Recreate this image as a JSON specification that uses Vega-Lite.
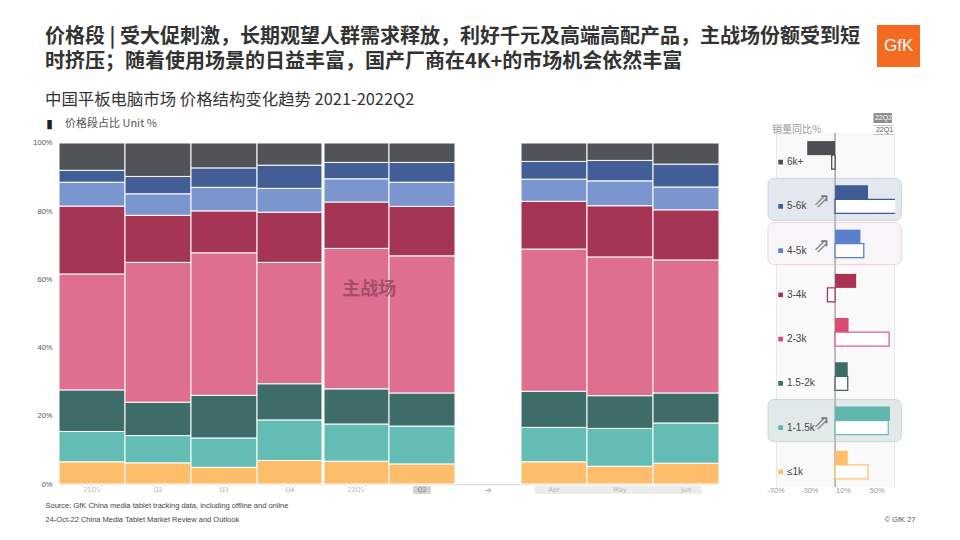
{
  "$schema": "https://vega.github.io/schema/vega-lite/v6.json",
  "background": "white",
  "padding": {"left": 32, "top": 25, "right": 10, "bottom": 10},
  "config": {
    "font": "Noto Sans CJK SC",
    "view": {"stroke": null},
    "axis": {"labelFont": "Liberation Sans", "titleFont": "Liberation Sans"}
  },
  "title": {
    "text": ["价格段 | 受大促刺激，长期观望人群需求释放，利好千元及高端高配产品，主战场份额受到短", "时挤压；随着使用场景的日益丰富，国产厂商在4K+的市场机会依然丰富"],
    "subtitle": "中国平板电脑市场 价格结构变化趋势 2021-2022Q2",
    "anchor": "start",
    "frame": "group",
    "font": "Noto Sans CJK SC",
    "fontSize": 20,
    "fontWeight": "bold",
    "color": "#333333",
    "lineHeight": 25,
    "subtitleFont": "Noto Sans CJK SC",
    "subtitleFontSize": 16.4,
    "subtitleColor": "#333333",
    "subtitleFontWeight": "normal",
    "subtitlePadding": 20,
    "offset": -83,
    "dx": -14
  },
  "bounds": "flush",
  "spacing": 57,
  "datasets": {
    "share": [
      {"period": "21Q1", "segment": "≤1k", "share": 6.5}, {"period": "21Q1", "segment": "1-1.5k", "share": 8.9}, {"period": "21Q1", "segment": "1.5-2k", "share": 12.2}, {"period": "21Q1", "segment": "2-3k", "share": 34.0}, {"period": "21Q1", "segment": "3-4k", "share": 19.9}, {"period": "21Q1", "segment": "4-5k", "share": 7.0}, {"period": "21Q1", "segment": "5-6k", "share": 3.5}, {"period": "21Q1", "segment": "6k+", "share": 8.0},
      {"period": "21Q2", "segment": "≤1k", "share": 6.2}, {"period": "21Q2", "segment": "1-1.5k", "share": 8.0}, {"period": "21Q2", "segment": "1.5-2k", "share": 9.8}, {"period": "21Q2", "segment": "2-3k", "share": 41.0}, {"period": "21Q2", "segment": "3-4k", "share": 13.8}, {"period": "21Q2", "segment": "4-5k", "share": 6.3}, {"period": "21Q2", "segment": "5-6k", "share": 5.1}, {"period": "21Q2", "segment": "6k+", "share": 9.8},
      {"period": "21Q3", "segment": "≤1k", "share": 4.9}, {"period": "21Q3", "segment": "1-1.5k", "share": 8.6}, {"period": "21Q3", "segment": "1.5-2k", "share": 12.5}, {"period": "21Q3", "segment": "2-3k", "share": 41.8}, {"period": "21Q3", "segment": "3-4k", "share": 12.3}, {"period": "21Q3", "segment": "4-5k", "share": 6.9}, {"period": "21Q3", "segment": "5-6k", "share": 5.7}, {"period": "21Q3", "segment": "6k+", "share": 7.3},
      {"period": "21Q4", "segment": "≤1k", "share": 6.9}, {"period": "21Q4", "segment": "1-1.5k", "share": 11.9}, {"period": "21Q4", "segment": "1.5-2k", "share": 10.6}, {"period": "21Q4", "segment": "2-3k", "share": 35.6}, {"period": "21Q4", "segment": "3-4k", "share": 14.7}, {"period": "21Q4", "segment": "4-5k", "share": 7.0}, {"period": "21Q4", "segment": "5-6k", "share": 6.8}, {"period": "21Q4", "segment": "6k+", "share": 6.5},
      {"period": "22Q1", "segment": "≤1k", "share": 6.7}, {"period": "22Q1", "segment": "1-1.5k", "share": 10.9}, {"period": "22Q1", "segment": "1.5-2k", "share": 10.3}, {"period": "22Q1", "segment": "2-3k", "share": 41.2}, {"period": "22Q1", "segment": "3-4k", "share": 13.6}, {"period": "22Q1", "segment": "4-5k", "share": 6.8}, {"period": "22Q1", "segment": "5-6k", "share": 4.8}, {"period": "22Q1", "segment": "6k+", "share": 5.7},
      {"period": "22Q2", "segment": "≤1k", "share": 5.9}, {"period": "22Q2", "segment": "1-1.5k", "share": 11.1}, {"period": "22Q2", "segment": "1.5-2k", "share": 9.7}, {"period": "22Q2", "segment": "2-3k", "share": 40.2}, {"period": "22Q2", "segment": "3-4k", "share": 14.5}, {"period": "22Q2", "segment": "4-5k", "share": 7.1}, {"period": "22Q2", "segment": "5-6k", "share": 5.8}, {"period": "22Q2", "segment": "6k+", "share": 5.7},
      {"period": "Apr", "segment": "≤1k", "share": 6.5}, {"period": "Apr", "segment": "1-1.5k", "share": 10.1}, {"period": "Apr", "segment": "1.5-2k", "share": 10.6}, {"period": "Apr", "segment": "2-3k", "share": 41.7}, {"period": "Apr", "segment": "3-4k", "share": 14.0}, {"period": "Apr", "segment": "4-5k", "share": 6.5}, {"period": "Apr", "segment": "5-6k", "share": 5.2}, {"period": "Apr", "segment": "6k+", "share": 5.4},
      {"period": "May", "segment": "≤1k", "share": 5.2}, {"period": "May", "segment": "1-1.5k", "share": 11.1}, {"period": "May", "segment": "1.5-2k", "share": 9.6}, {"period": "May", "segment": "2-3k", "share": 40.7}, {"period": "May", "segment": "3-4k", "share": 15.0}, {"period": "May", "segment": "4-5k", "share": 7.3}, {"period": "May", "segment": "5-6k", "share": 6.0}, {"period": "May", "segment": "6k+", "share": 5.1},
      {"period": "Jun", "segment": "≤1k", "share": 6.1}, {"period": "Jun", "segment": "1-1.5k", "share": 11.8}, {"period": "Jun", "segment": "1.5-2k", "share": 8.8}, {"period": "Jun", "segment": "2-3k", "share": 39.0}, {"period": "Jun", "segment": "3-4k", "share": 14.7}, {"period": "Jun", "segment": "4-5k", "share": 6.7}, {"period": "Jun", "segment": "5-6k", "share": 6.7}, {"period": "Jun", "segment": "6k+", "share": 6.2}
    ],
    "xlab": [
      {"period": "21Q1", "label": "21Q1"}, {"period": "21Q2", "label": "Q2"}, {"period": "21Q3", "label": "Q3"}, {"period": "21Q4", "label": "Q4"},
      {"period": "22Q1", "label": "22Q1"}, {"period": "22Q2", "label": "Q2"}, {"period": "gap", "label": "➔"},
      {"period": "Apr", "label": "Apr"}, {"period": "May", "label": "May"}, {"period": "Jun", "label": "Jun"}
    ],
    "yoy": [
      {"segment": "6k+", "series": "22Q2", "yoy": -33}, {"segment": "6k+", "series": "22Q1", "yoy": -4},
      {"segment": "5-6k", "series": "22Q2", "yoy": 39}, {"segment": "5-6k", "series": "22Q1", "yoy": 90},
      {"segment": "4-5k", "series": "22Q2", "yoy": 30}, {"segment": "4-5k", "series": "22Q1", "yoy": 34},
      {"segment": "3-4k", "series": "22Q2", "yoy": 25}, {"segment": "3-4k", "series": "22Q1", "yoy": -9},
      {"segment": "2-3k", "series": "22Q2", "yoy": 16}, {"segment": "2-3k", "series": "22Q1", "yoy": 64},
      {"segment": "1.5-2k", "series": "22Q2", "yoy": 15}, {"segment": "1.5-2k", "series": "22Q1", "yoy": 15},
      {"segment": "1-1.5k", "series": "22Q2", "yoy": 65}, {"segment": "1-1.5k", "series": "22Q1", "yoy": 63},
      {"segment": "≤1k", "series": "22Q2", "yoy": 15}, {"segment": "≤1k", "series": "22Q1", "yoy": 39}
    ],
    "yoyTicks": [
      {"tick": -70, "label": "-70%"}, {"tick": -30, "label": "-30%"}, {"tick": 10, "label": "10%"}, {"tick": 50, "label": "50%"}
    ]
  },
  "hconcat": [
    {
      "width": 660,
      "height": 364,
      "title": {"text": "价格段占比 Unit %", "anchor": "start", "frame": "group", "fontSize": 11, "color": "#555555", "fontWeight": "normal", "offset": -12, "dx": 6},
      "layer": [
        {
          "data": {"values": [{}]},
          "mark": {"type": "rule", "stroke": "#d8d8d8", "strokeWidth": 1},
          "encoding": {"y": {"datum": -0.2, "type": "quantitative", "scale": {"domain": [-3.81, 102.93], "nice": false, "zero": false}}}
        },
        {
          "data": {"values": [{}]},
          "mark": {"type": "bar", "fill": "#d4d4d4", "width": 18, "cornerRadius": 1},
          "encoding": {
            "x": {"datum": "22Q2", "type": "nominal"},
            "y": {"datum": -0.6, "type": "quantitative"},
            "y2": {"datum": -2.9}
          }
        },
        {
          "data": {"values": [{}]},
          "mark": {"type": "rect", "fill": "#ececec", "cornerRadius": 1},
          "encoding": {
            "x": {"datum": "Apr", "type": "nominal", "bandPosition": 0.21},
            "x2": {"datum": "Jun", "bandPosition": 0.74},
            "y": {"datum": -0.6, "type": "quantitative"},
            "y2": {"datum": -2.9}
          }
        },
        {
          "data": {"name": "share"},
          "transform": [{"calculate": "indexof(['≤1k', '1-1.5k', '1.5-2k', '2-3k', '3-4k', '4-5k', '5-6k', '6k+'], datum.segment)", "as": "stackRank"}],
          "mark": {"type": "bar", "stroke": "white", "strokeWidth": 1},
          "encoding": {
            "x": {
              "field": "period", "type": "nominal",
              "scale": {"domain": ["21Q1", "21Q2", "21Q3", "21Q4", "22Q1", "22Q2", "gap", "Apr", "May", "Jun"], "paddingInner": 0, "paddingOuter": 0},
              "axis": {
                "labels": false, "ticks": false, "domain": false,
                "title": ["Source: GfK China media tablet tracking data, including offline and online", "24-Oct-22    China Media Tablet Market Review and Outlook"],
                "titleX": -14, "titleY": 4, "titleAlign": "left", "titleAnchor": "start", "titleBaseline": "top",
                "titleFontSize": 7.5, "titleFontWeight": "normal", "titleColor": "#444444", "titleLineHeight": 14
              }
            },
            "y": {
              "field": "share", "type": "quantitative", "stack": "zero",
              "scale": {"domain": [-3.81, 102.93], "nice": false, "zero": false},
              "axis": {
                "values": [0, 20, 40, 60, 80, 100], "labelExpr": "datum.value + '%'",
                "domain": false, "ticks": false, "grid": false,
                "labelFontSize": 7.5, "labelColor": "#555555", "labelPadding": 7,
                "title": "▮", "titleAngle": 0, "titleX": -10, "titleY": -10, "titleFontSize": 12, "titleFontStyle": "italic",
                "titleFontWeight": "bold", "titleColor": "#222222", "titleAlign": "center", "titleBaseline": "middle", "titleFont": "DejaVu Sans"
              }
            },
            "color": {
              "field": "segment", "type": "nominal",
              "scale": {
                "domain": ["≤1k", "1-1.5k", "1.5-2k", "2-3k", "3-4k", "4-5k", "5-6k", "6k+"],
                "range": ["#fdbd6b", "#63bdb5", "#3d6c69", "#df6f8e", "#a53555", "#7b96cf", "#435e97", "#505458"]
              },
              "legend": null
            },
            "order": {"field": "stackRank", "type": "quantitative", "sort": "ascending"}
          }
        },
        {
          "data": {"values": [{}]},
          "mark": {"type": "rule", "stroke": "white", "strokeWidth": 3},
          "encoding": {
            "x": {"datum": "22Q1", "type": "nominal", "bandPosition": 0},
            "y": {"datum": 0, "type": "quantitative"},
            "y2": {"datum": 100}
          }
        },
        {
          "data": {"name": "xlab"},
          "mark": {"type": "text", "font": "DejaVu Sans", "baseline": "middle"},
          "encoding": {
            "x": {"field": "period", "type": "nominal"},
            "y": {"datum": -1.75, "type": "quantitative"},
            "text": {"field": "label"},
            "size": {"condition": {"test": "datum.period === 'gap'", "value": 9}, "value": 6.5},
            "color": {"condition": {"test": "datum.period === '22Q2'", "value": "#8a8a8a"}, "value": "#b4b4b4"}
          }
        },
        {
          "data": {"values": [{}]},
          "mark": {"type": "text", "text": "主战场", "fontSize": 18, "fontWeight": "bold", "fill": "#9b4763", "opacity": 0.85, "font": "Noto Sans CJK SC"},
          "encoding": {
            "x": {"datum": "22Q1", "type": "nominal", "bandPosition": 0.7},
            "y": {"datum": 57, "type": "quantitative"}
          }
        }
      ]
    },
    {
      "width": 119,
      "height": 354,
      "view": {"fill": "#f9f9f9", "stroke": null},
      "title": {"text": "销量同比%", "anchor": "start", "frame": "group", "fontSize": 10, "color": "#9a9a9a", "fontWeight": "normal", "offset": -22, "dx": -4},
      "resolve": {"scale": {"shape": "independent"}, "legend": {"shape": "independent"}},
      "layer": [
        {
          "data": {"values": [{"segment": "5-6k"}]},
          "mark": {"type": "bar", "fill": "#e3e7f0", "stroke": "#cdd4e5", "strokeWidth": 1, "cornerRadius": 6, "height": {"band": 0.95}},
          "encoding": {
            "x": {
              "datum": -79.5, "type": "quantitative",
              "scale": {"domain": [-70, 71], "nice": false, "zero": false},
              "axis": {
                "values": [-70, -60, -50, -40, -30, -20, -10, 0, 10, 20, 30, 40, 50, 60, 70],
                "labels": false,
                "grid": true, "gridColor": "#e8e8e8", "domain": false, "ticks": false,
                "title": "© GfK  27", "titleX": 139, "titleY": 28, "titleAlign": "right", "titleAnchor": "end", "titleBaseline": "top",
                "titleFontSize": 7.5, "titleFontWeight": "normal", "titleColor": "#555555"
              }
            },
            "x2": {"datum": 78.5},
            "y": {"field": "segment", "type": "nominal", "scale": {"domain": ["6k+", "5-6k", "4-5k", "3-4k", "2-3k", "1.5-2k", "1-1.5k", "≤1k"], "paddingInner": 0, "paddingOuter": 0}, "axis": null}
          }
        },
        {
          "data": {"values": [{"segment": "4-5k"}]},
          "mark": {"type": "bar", "fill": "#f7f5f7", "stroke": "#f0d2da", "strokeWidth": 1, "cornerRadius": 6, "height": {"band": 0.95}},
          "encoding": {
            "x": {"datum": -79.5, "type": "quantitative"},
            "x2": {"datum": 78.5},
            "y": {"field": "segment", "type": "nominal"}
          }
        },
        {
          "data": {"values": [{"segment": "1-1.5k"}]},
          "mark": {"type": "bar", "fill": "#e1eae9", "stroke": "#c7d8d6", "strokeWidth": 1, "cornerRadius": 6, "height": {"band": 0.95}},
          "encoding": {
            "x": {"datum": -79.5, "type": "quantitative"},
            "x2": {"datum": 78.5},
            "y": {"field": "segment", "type": "nominal"}
          }
        },
        {
          "data": {"values": [{}]},
          "mark": {"type": "rule", "stroke": "#a9a9a9", "strokeWidth": 1.5},
          "encoding": {"x": {"datum": 0, "type": "quantitative"}}
        },
        {
          "data": {"name": "yoy"},
          "transform": [{"filter": "datum.series === '22Q2'"}],
          "mark": {"type": "bar", "clip": true},
          "encoding": {
            "x": {"field": "yoy", "type": "quantitative"},
            "y": {"field": "segment", "type": "nominal"},
            "yOffset": {"field": "series", "type": "nominal", "scale": {"domain": ["22Q2", "22Q1"], "paddingInner": 0, "paddingOuter": 0.58}},
            "fill": {
              "field": "segment", "type": "nominal",
              "scale": {
                "domain": ["6k+", "5-6k", "4-5k", "3-4k", "2-3k", "1.5-2k", "1-1.5k", "≤1k"],
                "range": ["#4b4e52", "#405c96", "#5b7fcc", "#a8324f", "#da4a73", "#3d6b66", "#5fb6ad", "#fdbf6a"]
              },
              "legend": null
            }
          }
        },
        {
          "data": {"name": "yoy"},
          "transform": [{"filter": "datum.series === '22Q1'"}],
          "mark": {"type": "bar", "clip": true, "fill": "white", "strokeWidth": 1.3},
          "encoding": {
            "x": {"field": "yoy", "type": "quantitative"},
            "y": {"field": "segment", "type": "nominal"},
            "yOffset": {"field": "series", "type": "nominal"},
            "stroke": {
              "field": "segment", "type": "nominal",
              "scale": {
                "domain": ["6k+", "5-6k", "4-5k", "3-4k", "2-3k", "1.5-2k", "1-1.5k", "≤1k"],
                "range": ["#4b4e52", "#405c96", "#5b7fcc", "#a8324f", "#e0608a", "#3d6b66", "#6cbcb3", "#fdbf6a"]
              },
              "legend": null
            }
          }
        },
        {
          "data": {"name": "yoy"},
          "transform": [{"filter": "datum.series === '22Q1'"}],
          "mark": {"type": "point", "shape": "square", "filled": true, "size": 22, "opacity": 1},
          "encoding": {
            "x": {"datum": -64.5, "type": "quantitative"},
            "y": {"field": "segment", "type": "nominal"},
            "yOffset": {"field": "series", "type": "nominal"},
            "fill": {"field": "segment", "type": "nominal"}
          }
        },
        {
          "data": {"name": "yoy"},
          "transform": [{"filter": "datum.series === '22Q1'"}],
          "mark": {"type": "text", "align": "left", "baseline": "middle", "font": "Liberation Sans", "fontSize": 10, "fill": "#444444"},
          "encoding": {
            "x": {"datum": -57, "type": "quantitative"},
            "y": {"field": "segment", "type": "nominal"},
            "yOffset": {"field": "series", "type": "nominal"},
            "text": {"field": "segment"}
          }
        },
        {
          "data": {"values": [{"segment": "5-6k"}, {"segment": "4-5k"}, {"segment": "1-1.5k"}]},
          "mark": {"type": "text", "text": "⇗", "font": "DejaVu Sans", "fontSize": 20, "fill": "#777777", "baseline": "middle", "dy": 2},
          "encoding": {
            "x": {"datum": -16, "type": "quantitative"},
            "y": {"field": "segment", "type": "nominal"}
          }
        },
        {
          "data": {"name": "yoyTicks"},
          "mark": {"type": "text", "align": "center", "baseline": "middle", "font": "Liberation Sans", "fontSize": 7.5, "fill": "#9a9a9a", "dy": 19},
          "encoding": {
            "x": {"field": "tick", "type": "quantitative"},
            "y": {"datum": "≤1k", "type": "nominal"},
            "yOffset": {"datum": "22Q1", "type": "nominal"},
            "text": {"field": "label"}
          }
        },
        {
          "data": {"values": [{}]},
          "mark": {"type": "point", "opacity": 0, "filled": true, "fill": "#8e8e8e"},
          "encoding": {
            "x": {"datum": 0, "type": "quantitative"},
            "shape": {
              "datum": "22Q2",
              "scale": {"range": ["M-1.15,-0.5H1.15V0.5H-1.15Z"]},
              "legend": {
                "orient": "none", "legendX": 97.5, "legendY": -20, "title": null,
                "symbolSize": 400, "symbolStrokeWidth": 0, "symbolFillColor": "#8e8e8e", "symbolOpacity": 1,
                "labelFontSize": 7, "labelFont": "Liberation Sans", "labelOffset": -10, "labelAlign": "center", "labelColor": "#ffffff",
                "clipHeight": 10, "padding": 0
              }
            }
          }
        },
        {
          "data": {"values": [{}]},
          "mark": {"type": "point", "opacity": 0, "filled": false, "stroke": "#8c8c8c", "strokeWidth": 1},
          "encoding": {
            "x": {"datum": 0, "type": "quantitative"},
            "shape": {
              "datum": "22Q1",
              "scale": {"range": ["M-1.15,-0.5H1.15V0.5H-1.15Z"]},
              "legend": {
                "orient": "none", "legendX": 97.5, "legendY": -8, "title": null,
                "symbolSize": 400, "symbolStrokeWidth": 1, "symbolStrokeColor": "#8c8c8c", "symbolOpacity": 1,
                "labelFontSize": 7, "labelFont": "Liberation Sans", "labelOffset": -10, "labelAlign": "center", "labelColor": "#555555",
                "clipHeight": 10, "padding": 0
              }
            }
          }
        },
        {
          "data": {"values": [{}]},
          "mark": {"type": "point", "opacity": 0},
          "encoding": {
            "x": {"datum": 0, "type": "quantitative"},
            "strokeDash": {
              "datum": "GfK",
              "legend": {
                "orient": "none", "legendX": 818, "legendY": -108, "title": null,
                "fillColor": "#f26b21", "padding": 6, "symbolType": "circle", "symbolOpacity": 0, "symbolSize": 0, "symbolStrokeWidth": 0,
                "labelColor": "#ffffff", "labelFontSize": 17, "labelFont": "Liberation Sans", "labelOffset": -16, "clipHeight": 30
              }
            }
          }
        }
      ]
    }
  ]
}
